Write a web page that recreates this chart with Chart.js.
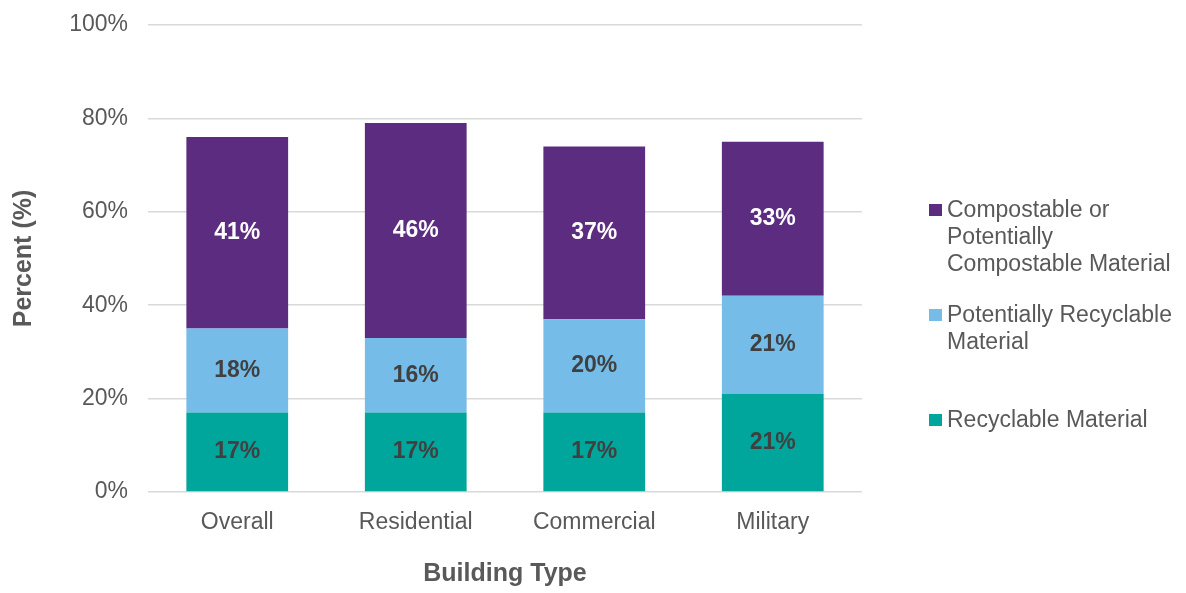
<!DOCTYPE html>
<html>
<head>
<meta charset="utf-8">
<script src="https://cdn.jsdelivr.net/npm/chart.js@4"></script>
<style>
  html, body { margin: 0; padding: 0; background: #fff; }
  #wrap { position: relative; width: 1186px; height: 593px; }
  #legend {
    position: absolute; left: 929px; top: 191px;
    font-family: "Liberation Sans", Arial, sans-serif; font-size: 23px; color: #595959;
  }
  .item { height: 91.5px; display: flex; align-items: center; }
  .entry { position: relative; padding-left: 18px; line-height: 27px; }
  .swatch { position: absolute; left: 0; top: 7.5px; width: 12.5px; height: 12.5px; }
</style>
</head>
<body>
<div id="wrap">
  <canvas id="wasteChart" width="1186" height="593"></canvas>
  <div id="legend"></div>
</div>
<script>
  const categories = ['Overall', 'Residential', 'Commercial', 'Military'];
  const recyclable = [17, 17, 17, 21];
  const potentiallyRecyclable = [18, 16, 20, 21];
  const compostable = [41, 46, 37, 33];
  const yTicks = [0, 20, 40, 60, 80, 100];

  const seriesLabels = {
    recyclable: ['Recyclable Material'],
    potentiallyRecyclable: ['Potentially Recyclable', 'Material'],
    compostable: ['Compostable or', 'Potentially', 'Compostable Material'],
  };

  const colors = {
    recyclable: '#00A59B',
    potentiallyRecyclable: '#75BCE9',
    compostable: '#5B2C7F',
  };

  const fontFamily = '"Liberation Sans", Arial, sans-serif';
  const gray = '#595959';

  const datasets = [
    { label: seriesLabels.recyclable.join(' '), lines: seriesLabels.recyclable, data: recyclable, backgroundColor: colors.recyclable, labelColor: '#404040' },
    { label: seriesLabels.potentiallyRecyclable.join(' '), lines: seriesLabels.potentiallyRecyclable, data: potentiallyRecyclable, backgroundColor: colors.potentiallyRecyclable, labelColor: '#404040' },
    { label: seriesLabels.compostable.join(' '), lines: seriesLabels.compostable, data: compostable, backgroundColor: colors.compostable, labelColor: '#ffffff' },
  ];

  // value labels centred in each stacked segment
  const segmentLabels = {
    id: 'segmentLabels',
    afterDatasetsDraw(chart) {
      const { ctx } = chart;
      ctx.save();
      ctx.font = `bold 23px ${fontFamily}`;
      ctx.textAlign = 'center';
      ctx.textBaseline = 'middle';
      chart.data.datasets.forEach((ds, i) => {
        const meta = chart.getDatasetMeta(i);
        meta.data.forEach((bar, j) => {
          ctx.fillStyle = ds.labelColor;
          ctx.fillText(`${ds.data[j]}%`, bar.x, (bar.y + bar.base) / 2);
        });
      });
      ctx.restore();
    },
  };

  new Chart(document.getElementById('wasteChart'), {
    type: 'bar',
    data: { labels: categories, datasets },
    options: {
      responsive: false,
      animation: false,
      layout: { padding: { top: 25, right: 324, left: 0, bottom: 0 } },
      datasets: { bar: { categoryPercentage: 1, barPercentage: 0.57, borderWidth: 0 } },
      plugins: { legend: { display: false }, tooltip: { enabled: false } },
      scales: {
        x: {
          stacked: true,
          grid: { display: false },
          border: { display: false },
          ticks: { color: gray, font: { family: fontFamily, size: 23 }, padding: 9 },
          title: {
            display: true, text: 'Building Type', color: gray,
            font: { family: fontFamily, size: 25, weight: 'bold' },
            padding: { top: 0, bottom: 4 },
          },
          afterFit: (scale) => { scale.height = 101; },
        },
        y: {
          stacked: true,
          min: 0,
          max: 100,
          afterBuildTicks: (scale) => { scale.ticks = yTicks.map((v) => ({ value: v })); },
          ticks: {
            color: gray, font: { family: fontFamily, size: 23 }, padding: 20,
            callback: (v) => `${v}%`,
          },
          grid: { color: '#D9D9D9', lineWidth: 1.5, drawTicks: false },
          border: { display: false },
          title: {
            display: true, text: 'Percent (%)', color: gray,
            font: { family: fontFamily, size: 25, weight: 'bold' },
            padding: { top: 9, bottom: 0 },
          },
          afterFit: (scale) => {
            scale.width = 148;
            // tick padding would otherwise push the plot area down
            scale.paddingTop = 14;
          },
        },
      },
    },
    plugins: [segmentLabels],
  });

  // legend, top entry first
  const legendEl = document.getElementById('legend');
  legendEl.innerHTML = datasets.slice().reverse().map((ds) => `
    <div class="item">
      <div class="entry">
        <span class="swatch" style="background:${ds.backgroundColor}"></span>${ds.lines.join('<br>')}
      </div>
    </div>`).join('');
</script>
</body>
</html>
